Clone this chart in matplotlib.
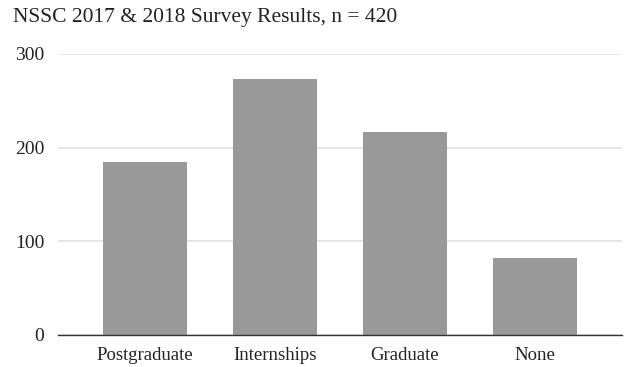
import matplotlib.pyplot as plt

categories = ["Postgraduate", "Internships", "Graduate", "None"]
counts = [185, 273, 217, 82]
y_ticks = [0, 100, 200, 300]

plt.rcParams['font.family'] = ['Liberation Serif', 'DejaVu Serif']

fig = plt.figure(figsize=(6.29, 3.67), dpi=100)
ax = fig.add_axes([0.0922, 0.0872, 0.8968, 0.7658])

x = range(len(categories))
ax.bar(x, counts, width=0.646, color='#999999', zorder=2)

ax.set_xlim(-0.669, 3.669)
ax.set_ylim(0, 300)
ax.set_yticks(y_ticks)
ax.set_yticklabels([str(t) for t in y_ticks], fontsize=14, color='#222222')
ax.set_xticks(list(x))
ax.set_xticklabels(categories, fontsize=13.5, color='#222222')
ax.tick_params(length=0, axis='y', pad=10)
ax.tick_params(length=0, axis='x', pad=9)

ax.grid(axis='y', color='#e0e0e0', linewidth=1.2, zorder=0)
for side in ['top', 'right', 'left']:
    ax.spines[side].set_visible(False)
ax.spines['bottom'].set_color('#333333')
ax.spines['bottom'].set_linewidth(1.0)
ax.spines['bottom'].set_zorder(3)

fig.text(0.021, 0.953, "NSSC 2017 & 2018 Survey Results, n = 420",
         fontsize=15.5, color='#222222', va='center', ha='left')

fig.savefig("out.png", dpi=100)
